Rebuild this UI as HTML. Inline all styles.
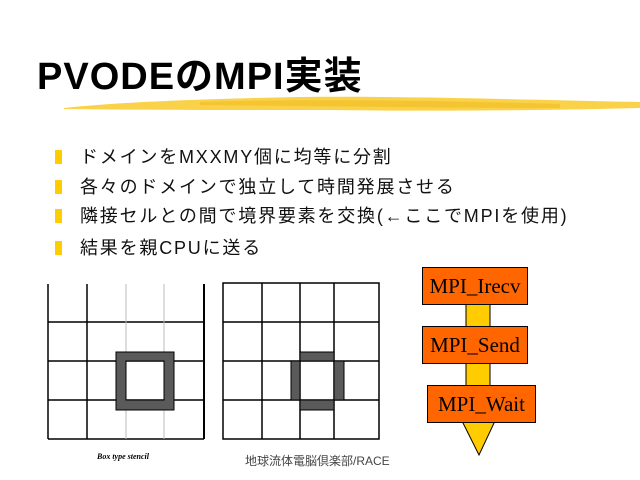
<!DOCTYPE html>
<html><head><meta charset="utf-8"><style>
body{margin:0;width:640px;height:480px;background:#fff;position:relative;overflow:hidden;font-family:"Liberation Sans","Noto Sans CJK JP",sans-serif}
.t{position:absolute;white-space:nowrap}
.b{position:absolute;left:55px;width:7px;height:14px;background:#ffcc00}
.li{position:absolute;left:80px;font-size:18px;color:#111;white-space:nowrap;line-height:20px;letter-spacing:1.8px}
.box{position:absolute;background:#ff6600;border:1px solid #000;font-family:"Liberation Serif",serif;font-size:21px;text-align:center;line-height:36px}
</style></head><body>
<div class="t" style="left:37px;top:45px;font-size:38px;font-weight:bold;letter-spacing:1px">PVODEのMPI実装</div>
<svg width="640" height="480" style="position:absolute;left:0;top:0">
<path d="M64 108 C120 102 200 99 300 97 C400 96 500 99 640 102 L640 108 C520 111 420 111 330 110 C230 110 140 110 64 109Z" fill="#f9d24a"/>
<path d="M200 102 C300 99 420 100 560 104 L560 108 C440 108 320 106 200 105Z" fill="#f0b818" opacity="0.5"/>
<g stroke="#000" stroke-width="1.5" fill="none">
<line x1="48" y1="284" x2="48" y2="439"/><line x1="87" y1="284" x2="87" y2="439"/>
<line x1="204" y1="284" x2="204" y2="439" stroke-width="2"/>
<line x1="48" y1="322" x2="204" y2="322"/><line x1="48" y1="361" x2="204" y2="361"/>
<line x1="48" y1="400" x2="204" y2="400"/><line x1="48" y1="439" x2="204" y2="439"/>
</g>
<g stroke="#bbb" stroke-width="1"><line x1="126" y1="284" x2="126" y2="439"/><line x1="164" y1="284" x2="164" y2="439"/></g>
<path d="M116 352H174V410H116Z M126 361V400H164V361Z" fill="#5a5a5a" fill-rule="evenodd" stroke="#000" stroke-width="1"/>
<g stroke="#000" stroke-width="1.5" fill="none">
<rect x="223" y="283" width="156" height="156"/>
<line x1="262" y1="283" x2="262" y2="439"/><line x1="300" y1="283" x2="300" y2="439"/><line x1="334" y1="283" x2="334" y2="439"/>
<line x1="223" y1="322" x2="379" y2="322"/><line x1="223" y1="361" x2="379" y2="361"/><line x1="223" y1="400" x2="379" y2="400"/>
</g>
<g fill="#5a5a5a" stroke="#000" stroke-width="1">
<rect x="300" y="352" width="34" height="9"/><rect x="300" y="400" width="34" height="10"/>
<rect x="291" y="361" width="9" height="39"/><rect x="334" y="361" width="10" height="39"/>
</g>
<rect x="466" y="303" width="24" height="84" fill="#ffcc00" stroke="#000"/>
<path d="M462 421L495 421L479 455Z" fill="#ffcc00" stroke="#000"/>
</svg>
<div class="box" style="left:422px;top:267px;width:104px;height:36px">MPI_Irecv</div>
<div class="box" style="left:422px;top:326px;width:104px;height:36px">MPI_Send</div>
<div class="box" style="left:427px;top:385px;width:107px;height:36px">MPI_Wait</div>
<div class="b" style="top:150px"></div><div class="li" style="top:147px">ドメインをMXXMY個に均等に分割</div>
<div class="b" style="top:180px"></div><div class="li" style="top:177px">各々のドメインで独立して時間発展させる</div>
<div class="b" style="top:209px"></div><div class="li" style="top:206px">隣接セルとの間で境界要素を交換(←ここでMPIを使用)</div>
<div class="b" style="top:241px"></div><div class="li" style="top:238px">結果を親CPUに送る</div>
<div class="t" style="left:97px;top:452px;font-size:8px;font-style:italic;font-weight:bold;font-family:'Liberation Serif',serif">Box type stencil</div>
<div class="t" style="left:245px;top:452px;font-size:12px;color:#444">地球流体電脳倶楽部/RACE</div>
</body></html>
